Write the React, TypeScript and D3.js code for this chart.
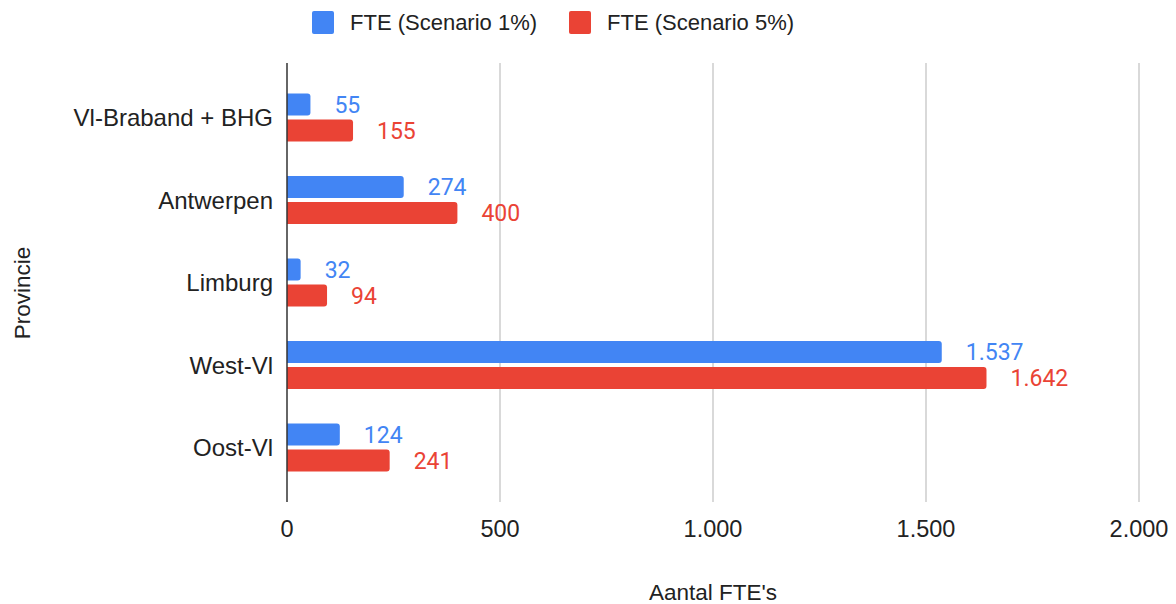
import * as d3 from 'd3';

const provinces = ['Vl-Braband + BHG', 'Antwerpen', 'Limburg', 'West-Vl', 'Oost-Vl'];
const seriesNames = ['FTE (Scenario 1%)', 'FTE (Scenario 5%)'];
const scenario1 = [55, 274, 32, 1537, 124];
const scenario5 = [155, 400, 94, 1642, 241];
const xTicks = [0, 500, 1000, 1500, 2000];
const colors = ['#4285f4', '#ea4335'];

const width = 1176;
const height = 604;
const left = 287;
const right = 1139;
const top = 63;
const bottom = 502;

const nl = d3.formatLocale({ decimal: ',', thousands: '.', grouping: [3], currency: ['€', ''] });
const fmt = nl.format(',');

const axisFont = '"Liberation Sans", Arial, sans-serif';

// bar with rounded right end only
function barPath(x0: number, x1: number, y: number, h: number, r: number) {
  const rr = Math.min(r, (x1 - x0) / 2, h / 2);
  return `M${x0},${y}H${x1 - rr}Q${x1},${y} ${x1},${y + rr}V${y + h - rr}Q${x1},${y + h} ${x1 - rr},${y + h}H${x0}Z`;
}

export default function App() {
  const x = d3.scaleLinear().domain([0, 2000]).range([left, right]);
  const y = d3
    .scaleBand<string>()
    .domain(provinces)
    .range([top, bottom])
    .paddingInner(0.418)
    .paddingOuter(0.37);
  const inner = d3
    .scaleBand<string>()
    .domain(seriesNames)
    .range([0, y.bandwidth()])
    .paddingInner(0.154);

  const series = [scenario1, scenario5];
  const legendX = [312, 569];

  return (
    <svg width={width} height={height} style={{ position: 'absolute', left: 0, top: 0 }}>
      <rect width={width} height={height} fill="#fff" />

      {/* legend */}
      {seriesNames.map((name, i) => (
        <g key={name} transform={`translate(${legendX[i]},0)`}>
          <rect x={0} y={11} width={22} height={23} rx={2} fill={colors[i]} />
          <text x={38} y={30} fontFamily={axisFont} fontSize={22} fill="#222">
            {name}
          </text>
        </g>
      ))}

      {/* grid */}
      {xTicks.slice(1).map((t) => (
        <line key={t} x1={x(t)} x2={x(t)} y1={top} y2={bottom} stroke="#ccc" strokeWidth={1.5} />
      ))}

      {/* bars */}
      {provinces.map((p, i) => (
        <g key={p}>
          {series.map((vals, s) => {
            const by = (y(p) ?? 0) + (inner(seriesNames[s]) ?? 0);
            const bh = inner.bandwidth();
            return (
              <g key={s}>
                <path d={barPath(x(0), x(vals[i]), by, bh, 3)} fill={colors[s]} />
                <text
                  x={x(vals[i]) + 24}
                  y={by + bh / 2}
                  dy="0.36em"
                  fontFamily="Roboto, sans-serif"
                  fontSize={23}
                  fill={colors[s]}
                >
                  {fmt(vals[i])}
                </text>
              </g>
            );
          })}
        </g>
      ))}

      {/* zero axis */}
      <line x1={x(0)} x2={x(0)} y1={top} y2={bottom} stroke="#333" strokeWidth={1.5} />

      {/* category labels */}
      {provinces.map((p) => (
        <text
          key={p}
          x={273}
          y={(y(p) ?? 0) + y.bandwidth() / 2}
          dy="0.36em"
          textAnchor="end"
          fontFamily={axisFont}
          fontSize={24}
          fill="#222"
        >
          {p}
        </text>
      ))}

      {/* x tick labels */}
      {xTicks.map((t) => (
        <text key={t} x={x(t)} y={537} textAnchor="middle" fontFamily={axisFont} fontSize={23.5} fill="#222">
          {fmt(t)}
        </text>
      ))}

      {/* axis titles */}
      <text x={(left + right) / 2} y={600} textAnchor="middle" fontFamily={axisFont} fontSize={22.5} fill="#222">
        Aantal FTE's
      </text>
      <text
        transform={`translate(30,293) rotate(-90)`}
        textAnchor="middle"
        fontFamily={axisFont}
        fontSize={22.5}
        fill="#222"
      >
        Provincie
      </text>
    </svg>
  );
}
